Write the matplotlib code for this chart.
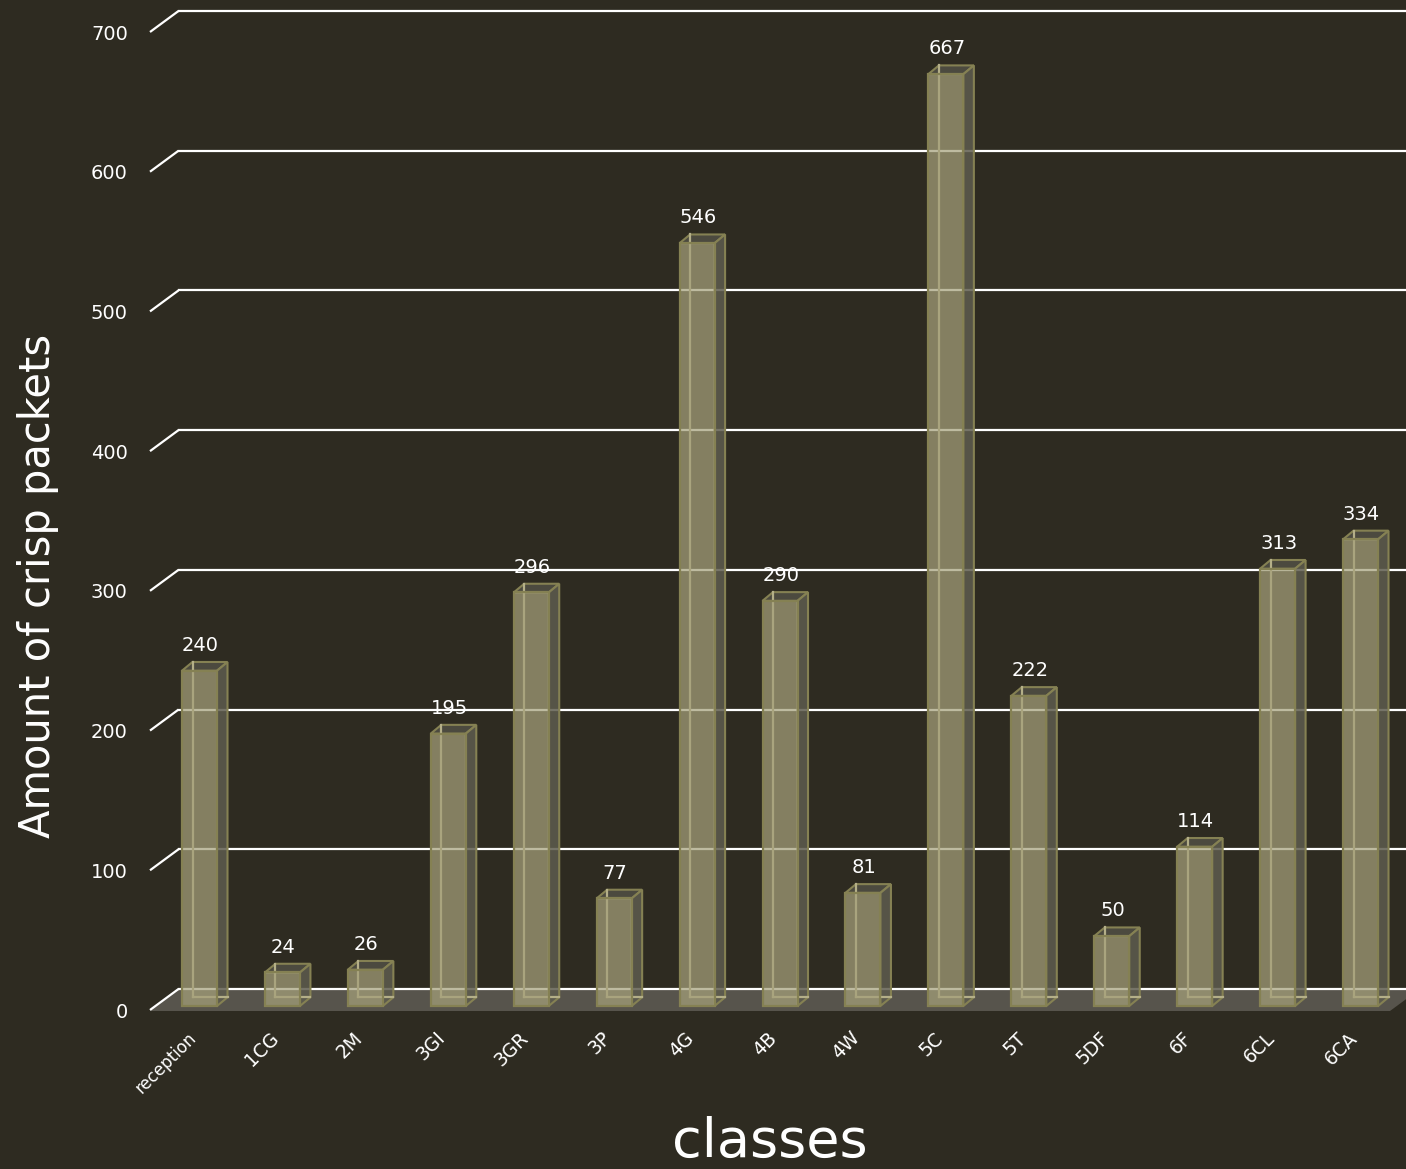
import numpy as np
import matplotlib.pyplot as plt
from matplotlib.patches import Polygon
from matplotlib.transforms import ScaledTranslation

# ─────────────────────────────────────────────────────────────────────────────
# DATA
# ─────────────────────────────────────────────────────────────────────────────
classes = ["reception", "1CG", "2M", "3GI", "3GR", "3P", "4G", "4B", "4W",
           "5C", "5T", "5DF", "6F", "6CL", "6CA"]
packets = [240, 24, 26, 195, 296, 77, 546, 290, 81, 667, 222, 50, 114, 313, 334]
y_ticks = [0, 100, 200, 300, 400, 500, 600, 700]

# ─────────────────────────────────────────────────────────────────────────────
# STYLE / GEOMETRY (pixel based, figure is 1406 x 1169 at dpi 100)
# ─────────────────────────────────────────────────────────────────────────────
BG = "#2E2B21"
FLOOR = "#57544C"
EDGE = "#858153"
INNER = "#B4AF88"
FRONT = "#A6A17B"
SIDE = "#5E5C4E"
TOP = "#4C4A3F"

W_PX, H_PX = 1406, 1169
PPY = 978 / 700          # px per value unit
PPX = 82.93              # px per category
Y_MIN, Y_MAX = -3, 722
X0 = -(199.5 - 150) / PPX
X1 = X0 + (W_PX - 150) / PPX


def dx(px):
    return px / PPX


def dy(px):
    return px / PPY


fig = plt.figure(figsize=(W_PX / 100, H_PX / 100), dpi=100, facecolor=BG)
ax_bottom_px = 1010 + (-Y_MIN) * PPY
ax = fig.add_axes([150 / W_PX, (H_PX - ax_bottom_px) / H_PX,
                   (W_PX - 150) / W_PX, (Y_MAX - Y_MIN) * PPY / H_PX])
ax.set_facecolor(BG)
ax.set_xlim(X0, X1)
ax.set_ylim(Y_MIN, Y_MAX)
for s in ax.spines.values():
    s.set_visible(False)

# floor plane
DEPTH_X, DEPTH_Y = 28.5, 21
floor = Polygon([(X0, -dy(1)), (X0 + dx(1240), -dy(1)),
                 (X0 + dx(1240 + DEPTH_X), dy(DEPTH_Y - 1)),
                 (X0 + dx(DEPTH_X), dy(DEPTH_Y - 1))],
                closed=True, facecolor=FLOOR, edgecolor="none", zorder=1)
ax.add_patch(floor)

# gridlines (skewed at the left wall, then flat)
for v in y_ticks:
    ax.plot([X0, X0 + dx(DEPTH_X)], [v, v + dy(DEPTH_Y)], color="white",
            lw=1.6, zorder=2, clip_on=False, solid_capstyle="butt")
    ax.plot([X0 + dx(DEPTH_X), X1], [v + dy(DEPTH_Y)] * 2, color="white",
            lw=1.6, zorder=2, clip_on=False)

# bars: transparent boxes
BW = 35          # front width px
BDX, BDY = 10.5, 8.7
base = dy(4)
x = np.arange(len(classes))
for i, v in zip(x, packets):
    xl, xr = i - dx(BW / 2), i + dx(BW / 2)
    yb, yt = base, base + v
    ox, oy = dx(BDX), dy(BDY)
    # top
    ax.add_patch(Polygon([(xl, yt), (xr, yt), (xr + ox, yt + oy), (xl + ox, yt + oy)],
                         closed=True, facecolor=TOP, edgecolor=EDGE, lw=1.5, zorder=3))
    # right side
    ax.add_patch(Polygon([(xr, yb), (xr + ox, yb + oy), (xr + ox, yt + oy), (xr, yt)],
                         closed=True, facecolor=SIDE, alpha=0.85, edgecolor="none", zorder=3))
    ax.add_patch(Polygon([(xr, yb), (xr + ox, yb + oy), (xr + ox, yt + oy), (xr, yt)],
                         closed=True, facecolor="none", edgecolor=EDGE, lw=1.5, zorder=3))
    # inner back edges seen through the glass
    ax.plot([xl + ox, xl + ox], [yb + oy, yt + oy], color=INNER, lw=1.6, zorder=4)
    ax.plot([xl + ox, xr + ox], [yb + oy, yb + oy], color=INNER, lw=1.6, zorder=4)

ax.bar(x, packets, bottom=base, width=dx(BW), color=FRONT, alpha=0.72,
       edgecolor="none", zorder=5)
ax.bar(x, packets, bottom=base, width=dx(BW), color="none",
       edgecolor=EDGE, lw=1.6, zorder=6)

for i, v in zip(x, packets):
    ax.text(i + dx(1), base + v + dy(BDY) + dy(7), str(v), ha="center", va="bottom",
            color="white", fontsize=14, zorder=7)

# axes ticks
ax.set_yticks(y_ticks)
ax.set_yticklabels([str(t) for t in y_ticks])
ax.tick_params(axis="y", length=0, pad=16, colors="white", labelsize=14)
ax.set_xticks(x)
ax.set_xticklabels(classes)
ax.tick_params(axis="x", length=0, pad=15, colors="white", labelsize=13.5)
shift = ScaledTranslation(-6 / 100, 0, fig.dpi_scale_trans)
for lab in ax.get_xticklabels():
    lab.set_rotation(45)
    lab.set_ha("right")
    lab.set_va("center")
    lab.set_rotation_mode("anchor")
    lab.set_transform(lab.get_transform() + shift)
ax.get_xticklabels()[0].set_fontsize(12)

fig.text(38 / W_PX, 1 - 586 / H_PX, "Amount of crisp packets", rotation=90,
         ha="center", va="center", color="white", fontsize=30)
fig.text(770 / W_PX, 1 - 1142 / H_PX, "classes", ha="center", va="center",
         color="white", fontsize=39)

plt.savefig("out.png", dpi=100, facecolor=BG)
